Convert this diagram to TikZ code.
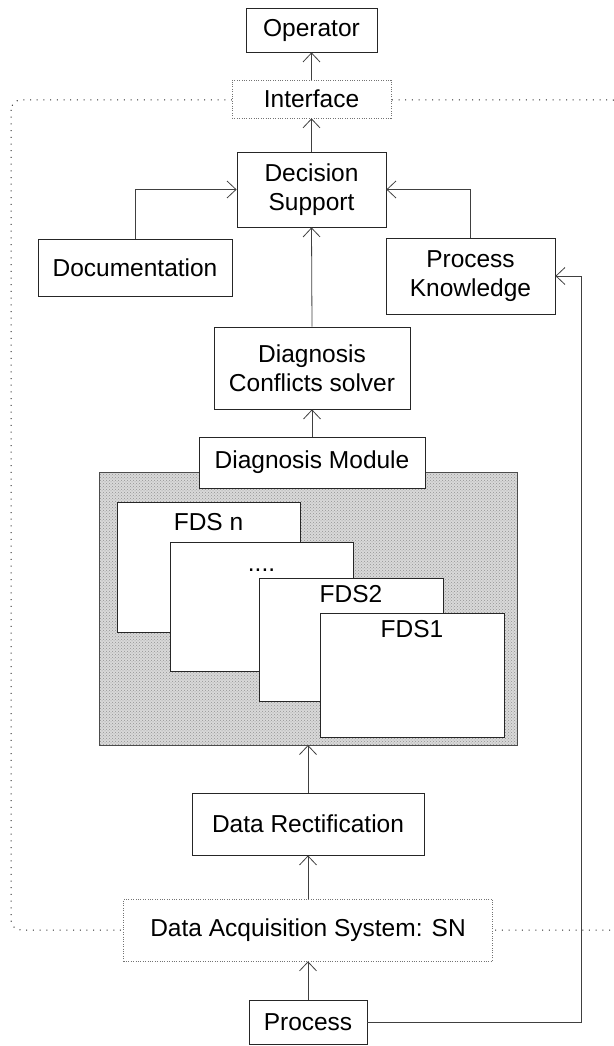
\documentclass[tikz,border=0pt]{standalone}
\usepackage{fontspec}
\setmainfont{Liberation Sans}
\usetikzlibrary{arrows.meta,patterns}
\begin{document}
\begin{tikzpicture}[x=1pt,y=-1pt,
  box/.style={draw=black!85,line width=0.8pt,fill=white,inner sep=0pt,align=center,
    font=\fontsize{24.5}{29}\selectfont},
  dbox/.style={box,draw=black!55,line width=0.6pt,dash pattern=on 0.8pt off 1.6pt},
  lbl/.style={inner sep=0pt,font=\fontsize{24.5}{29}\selectfont},
  arr/.style={draw=black!75,line width=0.8pt,-{Straight Barb[length=9pt,width=17pt,line width=0.8pt]}},
  con/.style={draw=black!75,line width=0.8pt}]
\useasboundingbox (0,0) rectangle (613,1046);
% outer dotted frame
\draw[black!85,line width=1pt,dash pattern=on 1pt off 5.7pt,rounded corners=10pt]
  (11,100) rectangle (623,930);
% nodes
\node[box,minimum width=131pt,minimum height=44pt] (op) at (311.5,30) {Operator};
\node[dbox,minimum width=159pt,minimum height=38pt] (intf) at (311.5,99) {Interface};
\node[box,minimum width=149pt,minimum height=75pt] (ds) at (311.5,189.5) {Decision\\Support};
\node[box,minimum width=194pt,minimum height=57pt] (doc) at (135,267.5) {Documentation};
\node[box,minimum width=169pt,minimum height=76pt] (pk) at (470.5,276) {Process\\Knowledge};
\node[box,minimum width=196pt,minimum height=82pt] (dcs) at (312,368) {Diagnosis\\Conflicts solver};
% diagnosis module gray area
\fill[gray!30] (99,472) rectangle (517,745);
\fill[pattern=crosshatch dots,pattern color=gray!85] (99,472) rectangle (517,745);
\draw[black!70,line width=0.8pt] (99,472) rectangle (517,745);
\coordinate (gb) at (308,745);
\node[box,minimum width=226pt,minimum height=51pt] (dm) at (312,462.5) {Diagnosis Module};
% FDS boxes
\draw[black!85,line width=0.8pt,fill=white] (117,502) rectangle (300,632);
\node[lbl] (fdsn) at (208.5,522) {FDS n};
\draw[black!85,line width=0.8pt,fill=white] (170,542) rectangle (353,671);
\node[lbl,anchor=base] (fdsd) at (261.5,571) {....};
\draw[black!85,line width=0.8pt,fill=white] (259,578) rectangle (443,701);
\node[lbl] (fds2) at (351,594) {FDS2};
\draw[black!85,line width=0.8pt,fill=white] (320,613) rectangle (504,737);
\node[lbl] (fds1) at (412,629) {FDS1};
% lower nodes
\node[box,minimum width=232pt,minimum height=62pt] (dr) at (308,824) {Data Rectification};
\node[dbox,minimum width=369pt,minimum height=62pt] (das) at (308,930) {Data Acquisition System: SN};
\node[box,minimum width=118pt,minimum height=44pt] (proc) at (308,1022) {Process};
\coordinate (pr) at (581.5,1022);
% connectors
\draw[arr] (intf.north) -- (op.south);
\draw[arr] (ds.north) -- (intf.south);
\draw[arr] (dcs.north) -- (ds.south);
\draw[arr] (dm.north) -- (dcs.south);
\draw[arr] (doc.north) |- (ds.west);
\draw[arr] (pk.north) |- (ds.east);
\draw[arr] (dr.north) -- (gb);
\draw[arr] (das.north) -- (dr.south);
\draw[arr] (proc.north) -- (das.south);
\draw[arr] (proc.east) -- (pr) |- (pk.east);
\end{tikzpicture}
\end{document}
